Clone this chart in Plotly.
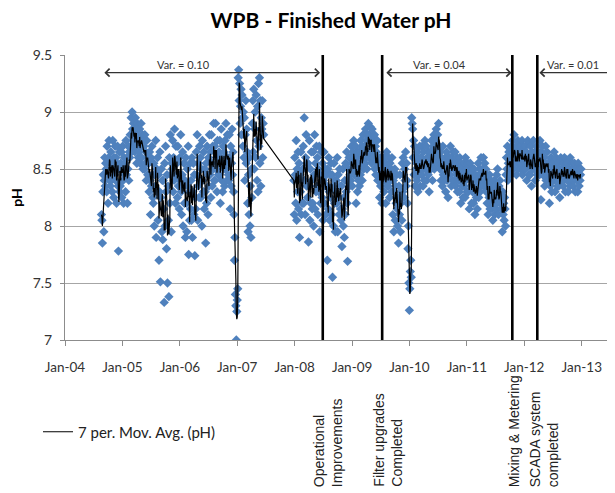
import plotly.graph_objects as go
import pandas as pd

title_text = "WPB - Finished Water pH"
y_title = "pH"
ma_name = "7 per. Mov. Avg. (pH)"
# readings below are every 3 days; 3 of them span about the 7 daily periods of the original average
ma_window = 3
sample_step = "3D"

# Segment A: Aug 2004 - Jun 2007 (one row = about one month of readings)
seg_a_start = "2004-08-20"
ph_a = [
    8.10, 8.05, 7.85, 8.30, 8.45, 7.95, 8.40, 8.60, 8.35, 8.55,
    8.50, 8.30, 8.70, 8.45, 8.20, 8.60, 8.75, 8.40, 8.55, 8.35,
    8.65, 8.40, 8.55, 8.30, 8.75, 8.50, 8.25, 8.60, 8.45, 8.70,
    8.40, 8.60, 8.20, 8.55, 8.70, 8.35, 7.78, 8.50, 8.65, 8.30,
    8.35, 8.55, 8.65, 8.25, 8.50, 8.70, 8.40, 8.20, 8.60, 8.45,
    8.55, 8.30, 8.75, 8.45, 8.60, 8.20, 8.50, 8.70, 8.40, 8.65,
    8.60, 8.80, 8.70, 8.95, 8.65, 9.00, 8.85, 8.75, 8.90, 8.70,
    8.85, 8.65, 8.95, 8.70, 8.80, 8.55, 8.90, 8.75, 8.60, 8.85,
    8.65, 8.85, 8.55, 8.75, 8.90, 8.60, 8.70, 8.80, 8.50, 8.75,
    8.70, 8.50, 8.80, 8.55, 8.65, 8.40, 8.75, 8.60, 8.45, 8.55,
    8.55, 8.30, 8.65, 8.40, 8.10, 8.60, 8.35, 8.70, 8.45, 8.25,
    8.20, 8.55, 8.00, 8.45, 8.35, 8.75, 7.90, 8.50, 8.30, 8.60,
    8.05, 8.45, 7.70, 8.30, 8.65, 7.51, 8.25, 8.50, 7.95, 8.40,
    7.88, 8.40, 8.15, 7.33, 8.55, 8.00, 8.70, 8.30, 7.80, 8.45,
    7.50, 8.35, 8.05, 7.38, 8.60, 8.20, 8.80, 8.45, 7.95, 8.55,
    8.50, 8.75, 8.30, 8.60, 8.40, 8.85, 8.55, 8.20, 8.70, 8.45,
    8.55, 8.25, 8.70, 8.35, 8.45, 8.15, 8.60, 8.40, 8.80, 8.30,
    8.10, 8.45, 8.65, 8.00, 8.35, 8.55, 8.20, 8.40, 7.90, 8.60,
    8.20, 7.95, 8.50, 8.35, 8.70, 7.75, 8.30, 8.05, 8.55, 8.15,
    8.40, 8.05, 8.60, 7.90, 8.30, 8.55, 8.10, 8.45, 7.74, 8.25,
    8.15, 8.65, 8.45, 8.80, 8.05, 8.35, 8.55, 8.25, 8.70, 8.40,
    8.60, 8.25, 8.50, 8.00, 8.75, 8.40, 8.30, 8.65, 8.15, 8.50,
    8.30, 7.85, 8.55, 8.20, 8.70, 8.45, 8.10, 8.60, 8.35, 8.80,
    8.45, 8.65, 8.25, 8.80, 8.55, 8.35, 8.70, 8.50, 8.90, 8.40,
    8.70, 8.40, 8.90, 8.50, 8.60, 8.30, 8.75, 8.55, 8.45, 8.65,
    8.45, 8.75, 8.20, 8.60, 8.85, 8.40, 8.55, 8.30, 8.70, 8.50,
    8.65, 8.35, 8.75, 8.50, 8.90, 8.55, 8.40, 8.80, 8.60, 8.45,
    8.40, 8.80, 8.60, 8.15, 8.70, 8.35, 8.55, 8.85, 8.45, 8.65,
    8.30, 8.10, 7.70, 7.90, 7.40, 7.30, 7.00, 7.25, 7.35, 7.45,
    9.30, 9.37, 9.10, 9.25, 8.90, 9.05, 9.20, 8.80, 9.15, 8.95,
    8.70, 9.00, 8.60, 8.95, 8.40, 8.80, 9.10, 8.55, 8.85, 8.65,
    8.20, 7.95, 8.45, 8.10, 8.60, 8.00, 8.35, 7.90, 8.50, 8.25,
    8.90, 9.10, 8.65, 9.20, 8.50, 8.85, 9.00, 8.60, 9.15, 8.75,
    8.40, 9.05, 8.30, 9.25, 8.70, 9.30, 8.55, 9.10, 8.35, 8.95,
    8.85, 9.10, 8.60, 8.90, 8.80,
]

# Segment B: Dec 2007 - Dec 2012
seg_b_start = "2007-12-27"
ph_b = [
    8.40, 8.10, 8.60, 8.45, 8.20, 8.75, 8.05, 8.50, 8.30, 8.65,
    8.15, 8.55, 7.90, 8.45, 8.30, 8.65, 8.10, 8.40, 8.20, 8.50,
    8.70, 8.20, 8.95, 8.40, 8.10, 8.60, 8.80, 8.35, 8.55, 8.25,
    8.55, 7.86, 8.35, 8.75, 8.05, 8.50, 8.20, 8.65, 8.40, 8.15,
    8.20, 8.65, 8.00, 8.45, 8.80, 8.15, 8.55, 8.30, 8.70, 8.35,
    8.60, 8.10, 8.50, 8.30, 8.70, 7.95, 8.45, 8.20, 8.65, 8.40,
    8.25, 8.55, 8.05, 8.40, 8.65, 8.20, 8.35, 8.50, 8.10, 8.45,
    8.35, 7.70, 8.50, 8.15, 8.60, 8.30, 8.05, 8.45, 8.25, 8.55,
    8.10, 8.45, 7.55, 8.35, 8.00, 8.55, 8.20, 8.40, 7.95, 8.30,
    8.40, 8.20, 8.60, 7.95, 8.45, 8.25, 8.10, 8.50, 8.35, 8.15,
    8.05, 8.35, 7.82, 8.15, 8.50, 8.00, 8.25, 7.90, 8.40, 8.10,
    8.55, 8.30, 8.65, 8.20, 7.69, 8.40, 8.50, 8.60, 8.35, 8.45,
    8.60, 8.40, 8.70, 8.55, 8.35, 8.65, 8.50, 8.75, 8.45, 8.60,
    8.45, 8.70, 8.20, 8.60, 8.50, 8.30, 8.65, 8.40, 8.55, 8.35,
    8.65, 8.45, 8.75, 8.55, 8.70, 8.40, 8.60, 8.80, 8.50, 8.65,
    8.70, 8.55, 8.85, 8.60, 8.75, 8.50, 8.80, 8.65, 8.90, 8.60,
    8.80, 8.60, 8.87, 8.65, 8.75, 8.55, 8.85, 8.70, 8.60, 8.75,
    8.60, 8.80, 8.50, 8.70, 8.45, 8.65, 8.55, 8.75, 8.40, 8.60,
    8.40, 8.55, 8.25, 8.60, 8.35, 8.50, 8.45, 8.20, 8.55, 8.40,
    8.50, 8.30, 8.60, 8.40, 8.55, 8.20, 8.45, 8.65, 8.35, 8.50,
    8.35, 8.60, 8.45, 8.25, 8.55, 8.40, 8.50, 8.30, 8.60, 8.45,
    8.10, 8.40, 7.95, 8.30, 8.50, 8.05, 8.35, 8.20, 8.45, 8.15,
    8.00, 8.25, 7.85, 8.35, 8.10, 8.45, 7.95, 8.20, 8.30, 8.05,
    8.55, 8.30, 8.60, 8.45, 8.25, 8.50, 8.40, 8.65, 8.35, 8.55,
    8.40, 8.20, 7.80, 8.00, 7.50, 7.26, 7.45, 7.60, 7.70, 7.55,
    8.95, 8.90, 8.85, 8.60, 8.75, 8.45, 8.70, 8.35, 8.60, 8.50,
    8.55, 8.40, 8.65, 8.30, 8.60, 8.50, 8.45, 8.70, 8.35, 8.55,
    8.60, 8.45, 8.70, 8.50, 8.35, 8.65, 8.55, 8.40, 8.75, 8.50,
    8.50, 8.70, 8.40, 8.60, 8.55, 8.45, 8.65, 8.30, 8.60, 8.50,
    8.65, 8.50, 8.75, 8.55, 8.40, 8.70, 8.60, 8.80, 8.50, 8.65,
    8.75, 8.60, 8.85, 8.70, 8.55, 8.80, 8.65, 8.90, 8.70, 8.60,
    8.50, 8.65, 8.40, 8.60, 8.55, 8.35, 8.70, 8.45, 8.55, 8.40,
    8.45, 8.60, 8.30, 8.55, 8.65, 8.40, 8.50, 8.25, 8.60, 8.45,
    8.60, 8.45, 8.70, 8.50, 8.35, 8.60, 8.55, 8.40, 8.65, 8.50,
    8.40, 8.55, 8.65, 8.35, 8.50, 8.45, 8.60, 8.30, 8.55, 8.40,
    8.50, 8.30, 8.60, 8.40, 8.20, 8.55, 8.45, 8.35, 8.50, 8.25,
    8.45, 8.35, 8.55, 8.25, 8.60, 8.40, 8.50, 8.30, 8.45, 8.55,
    8.30, 8.50, 8.15, 8.45, 8.55, 8.35, 8.40, 8.20, 8.50, 8.30,
    8.40, 8.20, 8.50, 8.30, 8.10, 8.45, 8.35, 8.25, 8.40, 8.15,
    8.35, 8.55, 8.25, 8.45, 8.50, 8.30, 8.40, 8.60, 8.35, 8.45,
    8.50, 8.40, 8.60, 8.35, 8.45, 8.55, 8.40, 8.50, 8.30, 8.45,
    8.20, 8.40, 8.10, 8.35, 8.25, 8.45, 8.15, 8.30, 8.40, 8.20,
    8.15, 8.30, 8.05, 8.35, 8.20, 8.40, 8.10, 8.25, 8.35, 8.15,
    8.45, 8.20, 8.50, 8.25, 8.10, 8.35, 8.30, 8.40, 8.20, 8.30,
    8.15, 8.25, 7.95, 8.30, 8.10, 8.20, 8.05, 8.25, 8.15, 8.00,
    8.45, 8.60, 8.50, 8.70, 8.40, 8.55, 8.65, 8.45, 8.60, 8.50,
    8.60, 8.45, 8.70, 8.55, 8.75, 8.50, 8.65, 8.80, 8.55, 8.60,
    8.55, 8.70, 8.45, 8.65, 8.60, 8.75, 8.50, 8.65, 8.55, 8.70,
    8.65, 8.50, 8.70, 8.55, 8.75, 8.45, 8.60, 8.70, 8.50, 8.65,
    8.55, 8.70, 8.50, 8.65, 8.40, 8.60, 8.75, 8.55, 8.60, 8.45,
    8.60, 8.45, 8.70, 8.55, 8.35, 8.65, 8.50, 8.60, 8.75, 8.55,
    8.50, 8.65, 8.40, 8.60, 8.55, 8.70, 8.45, 8.60, 8.50, 8.65,
    8.60, 8.45, 8.75, 8.50, 8.23, 8.65, 8.55, 8.70, 8.45, 8.60,
    8.45, 8.60, 8.35, 8.55, 8.70, 8.40, 8.50, 8.65, 8.45, 8.55,
    8.40, 8.55, 8.20, 8.50, 8.35, 8.60, 8.45, 8.30, 8.55, 8.40,
    8.55, 8.40, 8.65, 8.45, 8.30, 8.50, 8.60, 8.40, 8.50, 8.35,
    8.40, 8.55, 8.35, 8.50, 8.25, 8.45, 8.60, 8.40, 8.50, 8.45,
    8.50, 8.35, 8.55, 8.40, 8.60, 8.45, 8.30, 8.50, 8.45, 8.55,
    8.40, 8.55, 8.30, 8.50, 8.45, 8.35, 8.60, 8.45, 8.40, 8.50,
    8.45, 8.55, 8.35, 8.50, 8.40, 8.55, 8.45, 8.30, 8.50, 8.45,
    8.40, 8.50, 8.30, 8.55, 8.45, 8.35, 8.50, 8.40, 8.45, 8.50,
]

event_dates = ["2008-06-28", "2009-07-11", "2011-10-17", "2012-03-24"]
event_labels = ["Operational<br>Improvements", "Filter upgrades<br>Completed",
                "Mixing & Metering", "SCADA system<br>completed"]

var_labels = ["Var. = 0.10", "Var. = 0.04", "Var. = 0.01"]
var_starts = ["2004-08-29", "2009-07-28", "2012-03-28"]
var_ends = ["2008-06-11", "2011-10-12", "2013-07-18"]
var_level = 9.345

# ---- build series ----
dates_a = pd.date_range(seg_a_start, periods=len(ph_a), freq=sample_step)
dates_b = pd.date_range(seg_b_start, periods=len(ph_b), freq=sample_step)
seg_a = pd.Series(ph_a, index=dates_a)
seg_b = pd.Series(ph_b, index=dates_b)
series = pd.concat([seg_a, seg_b])
ma = pd.concat([seg_a.rolling(ma_window, min_periods=1).mean(),
                seg_b.rolling(ma_window, min_periods=1).mean()])

FONT_C = "Lato"
FONT_A = "Liberation Sans"
blue = "#4F81BD"

# page body has an 8px margin: figure is sized so it ends at the window edge
W, H = 607, 485
L, T, PLOT_H = 57, 47, 285
B = H - T - PLOT_H

fig = go.Figure()
fig.add_trace(go.Scatter(
    x=series.index, y=series.values, mode="markers", name="pH",
    marker=dict(symbol="diamond", size=7.2, color=blue, line=dict(width=0)),
    showlegend=False,
))
fig.add_trace(go.Scatter(
    x=ma.index, y=ma.values, mode="lines", name=ma_name,
    line=dict(color="black", width=1.2),
))

for d in event_dates:
    fig.add_shape(type="line", xref="x", yref="y", x0=d, x1=d, y0=7, y1=9.5,
                  line=dict(color="black", width=2.6))

label_bottom = (T + PLOT_H - 481) / PLOT_H
label_shift = [-13, -13, -8, -12]
for d, lab, sh in zip(event_dates, event_labels, label_shift):
    fig.add_annotation(x=d, xref="x", y=label_bottom, yref="paper", text=lab,
                       textangle=-90, xanchor="left", yanchor="bottom", align="left",
                       xshift=sh, showarrow=False,
                       font=dict(family=FONT_A, size=14, color="#222222"))

var_text_x = ["2006-01-22", "2010-07-13", "2012-11-06"]
for s, e, lab, tx in zip(var_starts, var_ends, var_labels, var_text_x):
    fig.add_annotation(x=e, y=var_level, ax=s, ay=var_level,
                       xref="x", yref="y", axref="x", ayref="y", text="",
                       showarrow=True, arrowside="end+start", arrowhead=4,
                       startarrowhead=4, arrowsize=1.4, startarrowsize=1.4,
                       arrowwidth=1.1, arrowcolor="#333333")
    fig.add_annotation(x=tx, y=var_level, xref="x", yref="y", text=lab,
                       showarrow=False, yanchor="bottom", yshift=0,
                       font=dict(family=FONT_C, size=11, color="#333333"))

fig.update_layout(
    width=W, height=H,
    margin=dict(l=L, r=1, t=T, b=B, autoexpand=False),
    paper_bgcolor="white", plot_bgcolor="white",
    title=dict(text="<b>" + title_text + "</b>", x=323 / W, xref="container",
               xanchor="center", y=1 - 13 / H, yref="container", yanchor="middle",
               font=dict(family=FONT_C, size=21, color="black")),
    showlegend=True,
    legend=dict(x=(30 - L) / (W - L - 1), y=(T + PLOT_H - 424) / PLOT_H,
                xanchor="left", yanchor="middle",
                bgcolor="rgba(0,0,0,0)", font=dict(family=FONT_C, size=15, color="#222222")),
    xaxis=dict(type="date", range=["2004-01-01", "2013-07-25"],
               tick0="2004-01-01", dtick="M12", tickformat="%b-%y",
               showgrid=False, showline=True, linecolor="#8c8c8c", linewidth=1,
               ticks="outside", ticklen=5, tickcolor="#8c8c8c",
               ticklabelstandoff=10, automargin=False,
               tickfont=dict(family=FONT_C, size=13.5, color="#333333"), zeroline=False),
    yaxis=dict(range=[7, 9.5], dtick=0.5, showgrid=True, gridcolor="#a6a6a6",
               showline=True, linecolor="#8c8c8c", ticks="outside", ticklen=4,
               tickcolor="#8c8c8c", ticklabelstandoff=5, zeroline=False, automargin=False,
               tickfont=dict(family=FONT_C, size=14, color="#333333"),
               title=dict(text="<b>" + y_title + "</b>", standoff=8,
                          font=dict(family=FONT_C, size=14, color="black"))),
)

fig.write_html("out.html")
